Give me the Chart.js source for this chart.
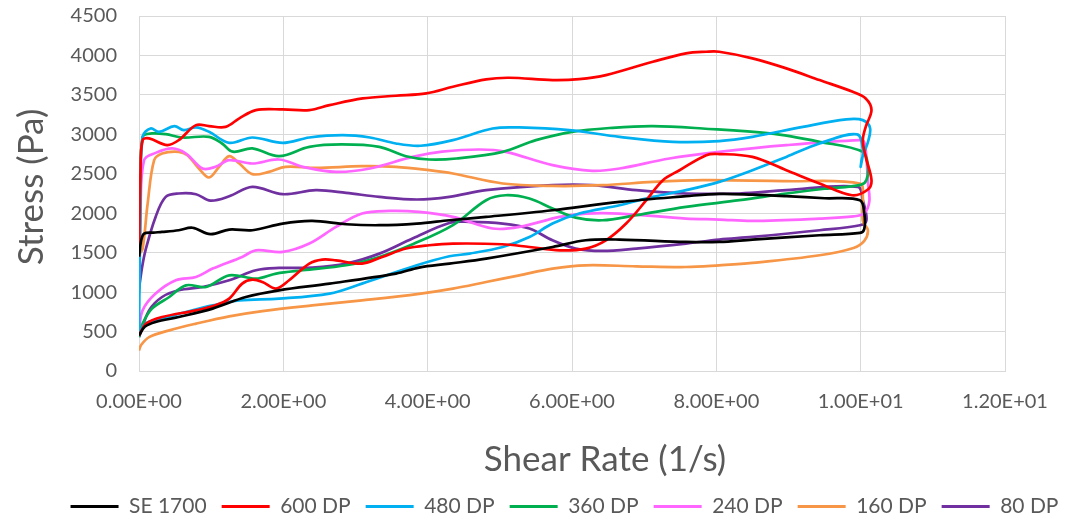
<!DOCTYPE html>
<html>
<head>
<meta charset="utf-8">
<script src="https://cdn.jsdelivr.net/npm/chart.js@4.4.1/dist/chart.umd.min.js"></script>
<style>
html,body{margin:0;padding:0;background:#ffffff;}
#wrap{width:1071px;height:519px;position:relative;}
</style>
</head>
<body>
<div id="wrap"><canvas id="c" width="1071" height="519"></canvas></div>
<script>
// ---------- DATA ----------
const seriesNames = ['SE 1700', '600 DP', '480 DP', '360 DP', '240 DP', '160 DP', '80 DP'];
const seriesColors = ['#000000', '#FF0000', '#00B0F0', '#00B050', '#FF66FF', '#F79646', '#7030A0'];

const xAxisTitle = 'Shear Rate (1/s)';
const yAxisTitle = 'Stress (Pa)';
const xTickLabels = ['0.00E+00', '2.00E+00', '4.00E+00', '6.00E+00', '8.00E+00', '1.00E+01', '1.20E+01'];
const yTickLabels = ['0', '500', '1000', '1500', '2000', '2500', '3000', '3500', '4000', '4500'];

const se1700X = [0, 0.03, 0.07, 0.2, 0.32, 0.55, 0.74, 0.99, 1.25, 1.57, 1.99, 2.4, 2.87, 3.33, 3.85, 4.3, 4.81, 5.73, 6.66, 7.58, 8.04, 8.5, 8.97, 9.5, 9.99, 10.05, 10.05, 9.99,
  9.43, 8.5, 8.04, 7.58, 6.66, 6.19, 5.73, 4.81, 4.3, 3.88, 3.56, 2.64, 1.94, 1.48, 1.02, 0.55, 0.23, 0.08, 0];
const se1700Y = [1450, 1650, 1742, 1755, 1763, 1784, 1816, 1735, 1793, 1784, 1869, 1902, 1860, 1848, 1869, 1911, 1953, 2038, 2143, 2216, 2245, 2235, 2216, 2190, 2165, 2000, 1800, 1750,
  1721, 1666, 1636, 1636, 1666, 1657, 1572, 1425, 1361, 1311, 1235, 1108, 1023, 938, 791, 684, 621, 560, 450];

const dp600X = [0, 0.02, 0.05, 0.14, 0.39, 0.55, 0.79, 0.97, 1.2, 1.39, 1.62, 1.99, 2.36, 2.64, 3.1, 3.56, 3.98, 4.35, 4.81, 5.13, 5.73, 6.1, 6.47, 7.12, 7.58, 7.86, 8.04, 8.5, 8.97, 9.43, 9.89, 10.07, 10.15, 10.07, 10.03, 10.07, 10.15, 10.1, 9.88,
  9.43, 8.97, 8.5, 8.04, 7.86, 7.49, 7.26, 7.03, 6.75, 6.47, 6.19, 5.83, 5.41, 5.03, 4.35, 4.02, 3.7, 3.37, 3.09, 2.73, 2.54, 2.36, 2.08, 1.9, 1.71, 1.57, 1.43, 1.25, 1.06, 0.79, 0.32, 0.1, 0];
const dp600Y = [1450, 2500, 2926, 2948, 2863, 2926, 3117, 3104, 3095, 3202, 3307, 3316, 3307, 3370, 3455, 3489, 3519, 3603, 3697, 3717, 3688, 3700, 3751, 3920, 4027, 4047, 4047, 3963, 3836, 3688, 3539, 3455, 3307, 3095, 2926, 2714, 2419, 2300, 2228,
  2377, 2545, 2714, 2750, 2736, 2545, 2419, 2165, 1869, 1657, 1552, 1530, 1572, 1607, 1615, 1594, 1552, 1446, 1361, 1403, 1412, 1361, 1150, 1044, 1128, 1158, 1108, 917, 832, 769, 684, 600, 450];

const dp480X = [0, 0.02, 0.05, 0.16, 0.28, 0.49, 0.62, 0.79, 0.97, 1.25, 1.57, 1.99, 2.36, 2.82, 3.2, 3.56, 3.9, 4.35, 4.9, 5.27, 5.96, 6.66, 7.4, 8.04, 8.5, 9.2, 9.8, 10.03, 10.13, 10.1, 10.02, 10.0, 10.03, 9.95,
  9.43, 8.97, 8.5, 8.04, 7.58, 7.12, 6.66, 6.1, 5.73, 5.41, 5.04, 4.58, 4.3, 3.85, 3.09, 2.64, 1.94, 1.39, 1.02, 0.65, 0.32, 0.09, 0];
const dp480Y = [500, 2000, 2968, 3074, 3032, 3104, 3053, 3087, 3032, 2892, 2960, 2892, 2960, 2990, 2960, 2884, 2855, 2926, 3074, 3087, 3053, 2968, 2905, 2915, 2968, 3095, 3189, 3180, 3080, 2900, 2700, 2590, 2800, 3000,
  2884, 2714, 2545, 2397, 2292, 2207, 2101, 1996, 1869, 1699, 1572, 1488, 1454, 1340, 1108, 981, 917, 896, 832, 748, 664, 600, 473];

const dp360X = [0, 0.02, 0.05, 0.18, 0.37, 0.6, 0.97, 1.15, 1.3, 1.57, 1.94, 2.36, 2.81, 3.33, 3.7, 4.02, 4.4, 5.04, 5.5, 6.0, 6.56, 7.12, 7.81, 8.74, 9.43, 10.03, 10.1, 10.08, 10.0,
  9.5, 8.97, 8.32, 7.58, 6.89, 6.42, 6.05, 5.73, 5.41, 5.08, 4.81, 4.35, 3.8, 3.33, 2.87, 2.27, 1.9, 1.62, 1.25, 0.93, 0.65, 0.42, 0.18, 0.05, 0];
const dp360Y = [1000, 2200, 2968, 3011, 3002, 2960, 2968, 2884, 2780, 2821, 2723, 2841, 2872, 2841, 2723, 2681, 2694, 2778, 2926, 3032, 3083, 3104, 3074, 3011, 2905, 2778, 2600, 2420, 2360,
  2310, 2250, 2165, 2080, 1975, 1911, 1945, 2059, 2186, 2228, 2165, 1850, 1610, 1446, 1340, 1277, 1235, 1171, 1213, 1065, 1086, 938, 791, 600, 430];

const dp240X = [0, 0.02, 0.07, 0.23, 0.46, 0.65, 0.88, 1.06, 1.25, 1.57, 1.94, 2.27, 2.73, 3.2, 3.79, 4.2, 4.72, 5.08, 5.73, 6.28, 6.66, 7.35, 8.04, 8.97, 9.99, 10.05, 10.08, 10.1, 10.12, 10.05, 9.9,
  9.43, 8.5, 8.04, 7.58, 6.66, 6.19, 5.83, 5.27, 4.9, 4.35, 3.88, 3.47, 3.09, 2.73, 2.36, 1.99, 1.62, 1.43, 1.02, 0.79, 0.51, 0.23, 0.05, 0];
const dp240Y = [1200, 2000, 2672, 2765, 2821, 2757, 2567, 2588, 2672, 2630, 2681, 2588, 2524, 2567, 2714, 2780, 2808, 2778, 2609, 2537, 2567, 2694, 2778, 2863, 2926, 2900, 2700, 2400, 2150, 2000, 1960,
  1932, 1902, 1920, 1932, 1996, 1996, 1953, 1826, 1806, 1953, 2016, 2029, 1996, 1826, 1615, 1509, 1530, 1446, 1298, 1192, 1150, 981, 769, 515];

const dp160X = [0, 0.05, 0.12, 0.21, 0.32, 0.55, 0.67, 0.83, 0.97, 1.11, 1.25, 1.39, 1.57, 1.8, 2.03, 2.45, 3.09, 3.56, 4.02, 4.35, 5.04, 5.73, 6.42, 7.12, 7.81, 8.97, 9.99, 10.03, 10.03, 10.1, 10.05, 9.9,
  9.43, 8.5, 8.04, 7.58, 6.89, 6.19, 5.73, 5.27, 4.81, 4.35, 3.88, 3.09, 2.4, 1.71, 1.25, 0.79, 0.42, 0.14, 0.03, 0];
const dp160Y = [1480, 1550, 2123, 2672, 2757, 2778, 2736, 2567, 2453, 2588, 2723, 2630, 2495, 2524, 2588, 2575, 2596, 2588, 2546, 2504, 2377, 2346, 2355, 2397, 2419, 2406, 2377, 2200, 1900, 1784, 1650, 1560,
  1467, 1370, 1340, 1318, 1327, 1340, 1298, 1213, 1128, 1044, 978, 896, 832, 760, 693, 600, 515, 430, 330, 261];

const dp80X = [0, 0.04, 0.09, 0.23, 0.37, 0.55, 0.79, 0.99, 1.25, 1.57, 1.99, 2.45, 2.87, 3.33, 3.85, 4.3, 4.81, 5.73, 6.28, 6.89, 7.58, 8.32, 8.97, 9.96, 10.03, 10.08, 9.99,
  9.43, 8.5, 8.04, 7.58, 6.89, 6.42, 6.05, 5.73, 5.41, 5.04, 4.58, 4.3, 3.79, 3.33, 2.87, 2.4, 1.94, 1.62, 1.25, 0.88, 0.55, 0.32, 0.14, 0];
const dp80Y = [1040, 1300, 1530, 1953, 2207, 2250, 2241, 2160, 2215, 2334, 2241, 2292, 2258, 2207, 2174, 2207, 2292, 2355, 2355, 2292, 2250, 2250, 2292, 2334, 2165, 1911, 1848,
  1784, 1699, 1666, 1615, 1552, 1522, 1552, 1657, 1806, 1869, 1890, 1877, 1680, 1488, 1361, 1311, 1306, 1277, 1150, 1065, 1023, 938, 769, 430];

const seriesX = [se1700X, dp600X, dp480X, dp360X, dp240X, dp160X, dp80X];
const seriesY = [se1700Y, dp600Y, dp480Y, dp360Y, dp240Y, dp160Y, dp80Y];

// ---------- CHART ----------
const TXT = '#595959';
const GRID = '#D9D9D9';
const FONT = 'Lato';

const datasets = seriesNames.map((name, i) => ({
  label: name,
  data: seriesX[i].map((x, k) => ({x: x, y: seriesY[i][k]})),
  borderColor: seriesColors[i],
  backgroundColor: seriesColors[i],
  borderWidth: 2.7,
  showLine: true,
  pointRadius: 0,
  pointHoverRadius: 0,
  tension: 0.35,
  fill: false
}));

// shifts the legend row to where it sits in the reference
const legendNudge = {
  id: 'legendNudge',
  afterLayout(chart) {
    const lg = chart.legend;
    if (!lg) return;
    const dx = 29, dy = 8;
    lg.left += dx; lg.right += dx;
    lg.top += dy; lg.bottom += dy;
  }
};

// axis titles, placed off-centre as in the reference
const axisTitles = {
  id: 'axisTitles',
  afterDraw(chart) {
    const ctx = chart.ctx;
    ctx.save();
    ctx.fillStyle = TXT;
    ctx.font = '35px ' + FONT;
    ctx.textAlign = 'center';
    ctx.textBaseline = 'middle';
    ctx.fillText(xAxisTitle, 605, 460);
    ctx.translate(32, 187);
    ctx.rotate(-Math.PI / 2);
    ctx.fillText(yAxisTitle, 0, 0);
    ctx.restore();
  }
};

new Chart(document.getElementById('c'), {
  type: 'scatter',
  data: {datasets: datasets},
  plugins: [legendNudge, axisTitles],
  options: {
    responsive: false,
    animation: false,
    devicePixelRatio: 1,
    layout: {padding: {left: 0, right: 0, top: 16, bottom: 0}},
    plugins: {
      tooltip: {enabled: false},
      legend: {
        display: true,
        position: 'bottom',
        align: 'center',
        labels: {
          color: TXT,
          font: {family: FONT, size: 21},
          boxWidth: 48,
          boxHeight: 3,
          padding: 15,
          generateLabels(chart) {
            const items = Chart.defaults.plugins.legend.labels.generateLabels(chart);
            items.forEach(it => { it.lineWidth = 0; it.fillStyle = it.strokeStyle; });
            return items;
          }
        }
      }
    },
    scales: {
      x: {
        type: 'linear',
        position: 'bottom',
        min: 0, max: 12,
        afterFit(scale) { scale.height = 102; scale.paddingRight = 66; },
        ticks: {
          stepSize: 2,
          color: TXT,
          font: {family: FONT, size: 20},
          padding: 19,
          maxRotation: 0,
          callback: (v, idx) => xTickLabels[idx]
        },
        grid: {color: GRID, lineWidth: 1, drawTicks: false},
        border: {color: GRID, width: 1},
        title: {display: false}
      },
      y: {
        type: 'linear',
        min: 0, max: 4500,
        afterFit(scale) { scale.width = 139; },
        ticks: {
          stepSize: 500,
          color: TXT,
          font: {family: FONT, size: 20},
          padding: 4,
          callback: (v, idx) => yTickLabels[idx]
        },
        grid: {color: GRID, lineWidth: 1, drawTicks: true, tickLength: 18, tickColor: 'rgba(0,0,0,0)'},
        border: {color: GRID, width: 1},
        title: {display: false}
      }
    }
  }
});
</script>
</body>
</html>
